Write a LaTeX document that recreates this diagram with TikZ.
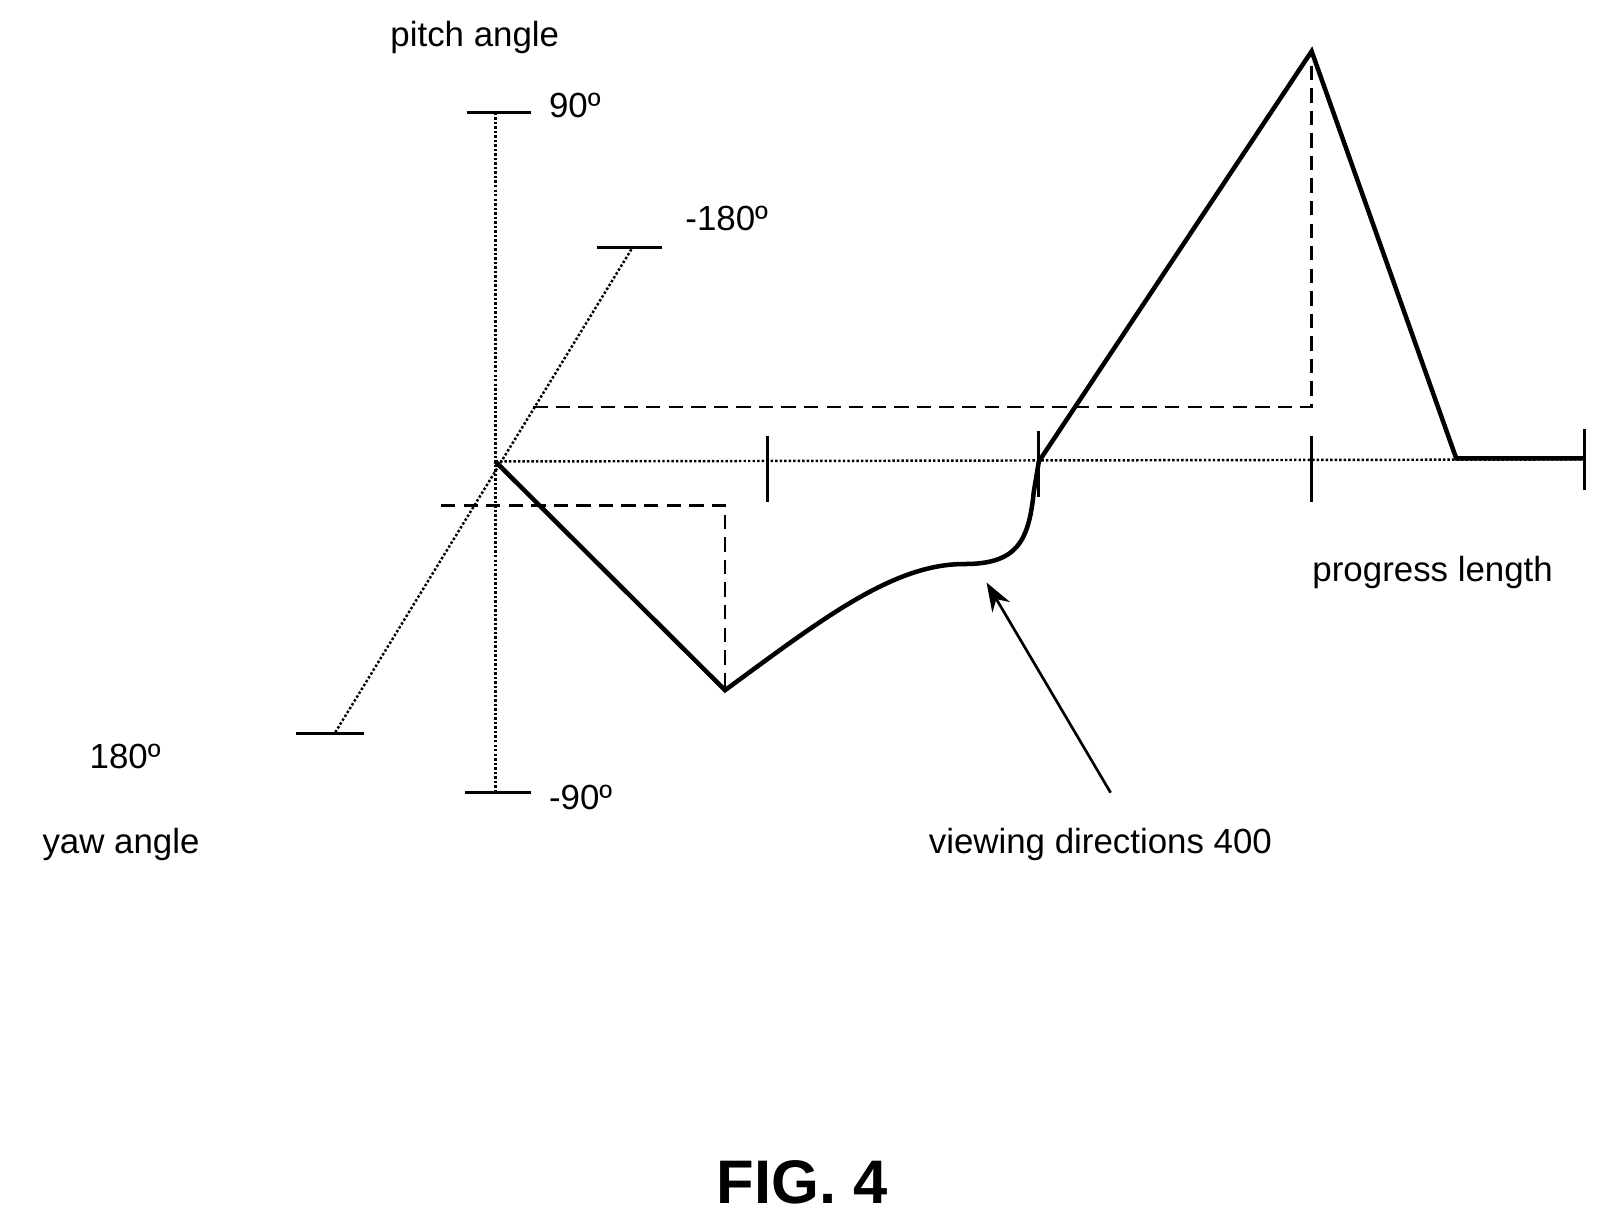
\documentclass[tikz,border=0pt]{standalone}
\usepackage{fontspec}
\setmainfont{Liberation Sans}
\usetikzlibrary{arrows.meta}
\begin{document}
\begin{tikzpicture}[x=0.5pt,y=-0.5pt,
  ax/.style={densely dotted,line width=1.2pt},
  tk/.style={line width=1.4pt},
  dsh/.style={dashed,line width=1.3pt,dash pattern=on 7pt off 4pt},
  crv/.style={line width=2.2pt,line join=miter},
  lbl/.style={font=\fontsize{17}{20}\selectfont,inner sep=0pt}]
\useasboundingbox (0,0) rectangle (1568,1197);
\coordinate (O) at (483,450);
\coordinate (pt) at (483,110); \coordinate (pb) at (483,773);
\coordinate (yt) at (617,241); \coordinate (yb) at (327,714);
\coordinate (xe) at (1545,448);
\draw[ax] (pt) -- (pb);
\draw[ax] (yb) -- (yt);
\draw[ax] (O) -- (xe);
\draw[tk] (455,110) -- (518,110);
\draw[tk] (453,773) -- (518,773);
\draw[tk] (582,241) -- (646,241);
\draw[tk] (289,715) -- (355,715);
\draw[tk] (748,425) -- (748,490);
\draw[tk] (1013,420) -- (1013,485);
\draw[tk] (1279,425) -- (1279,490);
\draw[tk] (1545,418) -- (1545,478);
\coordinate (v1) at (707,673); \coordinate (v2) at (1013,450);
\coordinate (pk) at (1279,50); \coordinate (fl) at (1420,447);
\draw[dsh] (430,493) -- (707,493) -- (v1);
\draw[dsh] (520,397) -- (1279,397) -- (pk);
\draw[crv] (O) -- (v1) .. controls (800,605) and (870,550) .. (940,550)
  .. controls (990,550) and (1003,530) .. (1008,480) -- (v2) -- (pk) -- (fl) -- (1545,447);
\coordinate (as) at (1083,773); \coordinate (ae) at (962,568);
\draw[line width=1.3pt,-{Stealth[length=14pt,width=10pt]}] (as) -- (ae);
\node[lbl] (l1) at (463,37) {pitch angle};
\node[lbl,anchor=west] (l2) at (535,103) {90º};
\node[lbl,anchor=west] (l3) at (535,778) {-90º};
\node[lbl,anchor=west] (l4) at (668,213) {-180º};
\node[lbl] (l5) at (122,738) {180º};
\node[lbl] (l6) at (118,823) {yaw angle};
\node[lbl] (l7) at (1073,823) {viewing directions 400};
\node[lbl] (l8) at (1397,558) {progress length};
\node[inner sep=0pt,font=\fontsize{30}{34}\selectfont\bfseries] (l9) at (782,1153) {FIG. 4};
\end{tikzpicture}
\end{document}
